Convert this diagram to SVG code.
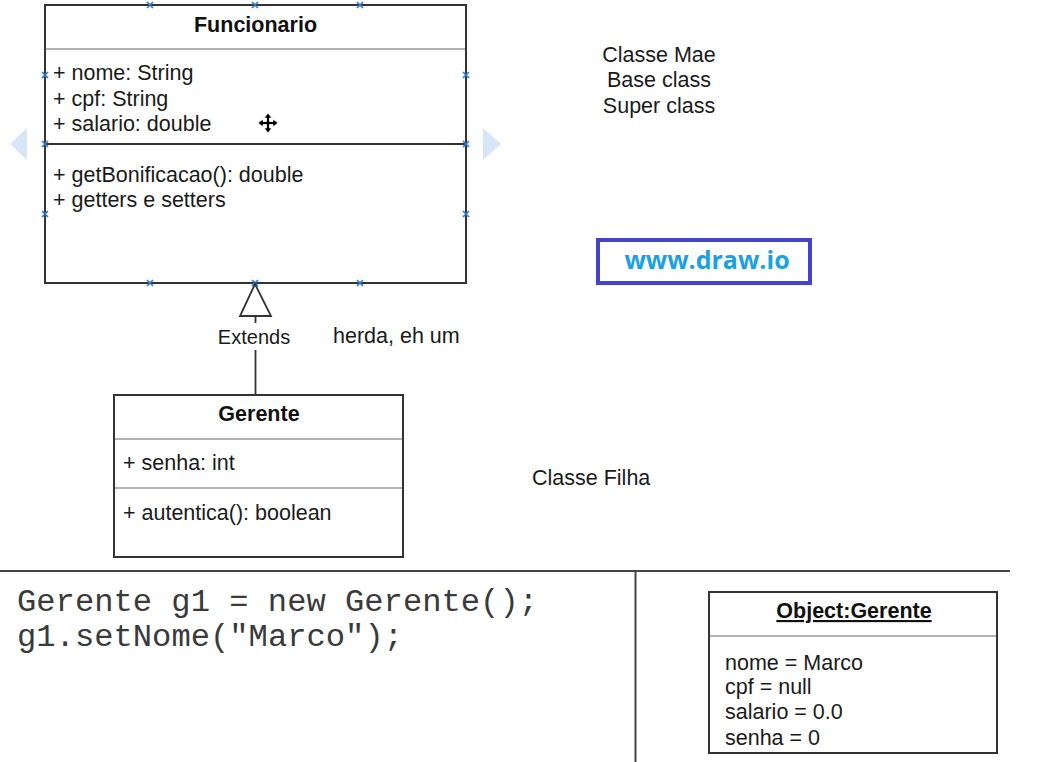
<svg xmlns="http://www.w3.org/2000/svg" width="1060" height="762" viewBox="0 0 1060 762">
<style>
.box{fill:#fff;stroke:#333;stroke-width:2}
.sep{stroke:#999;stroke-width:1.5}
.sepd{stroke:#333;stroke-width:2}
.t{font-family:"Liberation Sans",Arial,sans-serif;font-size:21.5px;fill:#1a1a1a}
.tb{font-family:"Liberation Sans",Arial,sans-serif;font-size:21.5px;font-weight:bold;fill:#111}
.sm{font-size:20px}
.code{font-family:"Liberation Mono","Courier New",monospace;font-size:31px;fill:#3a3a3a}
.mk{stroke:#2b7ad8;stroke-width:1.6;fill:none}
.hint{fill:#d6e6f8}
.ln{stroke:#333;stroke-width:1.8;fill:none}
</style>
<defs>
<path id="x" d="M-3,-3L3,3M-3,3L3,-3" class="mk"/>
</defs>
<rect width="1060" height="762" fill="#fff"/>

<g id="hints">
<polygon class="hint" points="10,144 27,128 27,160"/>
<polygon class="hint" points="483,128 483,160 501,144"/>
</g>

<g id="funcionario">
<rect class="box" x="45" y="5" width="421" height="278"/>
<line class="sep" x1="46" y1="49" x2="465" y2="49"/>
<line class="sepd" x1="45" y1="144" x2="466" y2="144"/>
<text class="tb" x="255.5" y="32" text-anchor="middle">Funcionario</text>
<text class="t" x="53" y="80">+ nome: String</text>
<text class="t" x="53" y="106">+ cpf: String</text>
<text class="t" x="53" y="131">+ salario: double</text>
<text class="t" x="53" y="182">+ getBonificacao(): double</text>
<text class="t" x="53" y="207">+ getters e setters</text>
</g>

<g id="markers">
<use href="#x" x="150" y="5"/><use href="#x" x="255" y="5"/><use href="#x" x="360" y="5"/>
<use href="#x" x="45" y="75"/><use href="#x" x="45" y="144"/><use href="#x" x="45" y="214"/>
<use href="#x" x="466" y="75"/><use href="#x" x="466" y="144"/><use href="#x" x="466" y="214"/>
<use href="#x" x="150" y="283"/><use href="#x" x="255" y="283"/><use href="#x" x="360" y="283"/>
</g>

<g id="cursor" transform="translate(268,123)">
<path d="M0,-10L-4,-5H-1.5V-1.5H-5V-4L-10,0L-5,4V1.5H-1.5V5H-4L0,10L4,5H1.5V1.5H5V4L10,0L5,-4V-1.5H1.5V-5H4Z" fill="#000" stroke="#fff" stroke-width="0.8"/>
</g>

<g id="connectors">
<polygon points="255,284 240,316 271,316" fill="#fff" stroke="#333" stroke-width="1.8"/>
<line class="ln" x1="255.5" y1="316" x2="255.5" y2="323"/>
<line class="ln" x1="255.5" y1="350" x2="255.5" y2="394"/>
<text class="t sm" x="254" y="344" text-anchor="middle">Extends</text>
</g>

<g id="gerente">
<rect class="box" x="114" y="395" width="289" height="162"/>
<line class="sep" x1="115" y1="439" x2="402" y2="439"/>
<line class="sep" x1="115" y1="488" x2="402" y2="488"/>
<text class="tb" x="259" y="421" text-anchor="middle">Gerente</text>
<text class="t" x="123" y="470">+ senha: int</text>
<text class="t" x="123" y="520">+ autentica(): boolean</text>
</g>

<g id="labels">
<text class="t" x="333" y="343">herda, eh um</text>
<text class="t" x="659" y="62" text-anchor="middle">Classe Mae</text>
<text class="t" x="659" y="87" text-anchor="middle">Base class</text>
<text class="t" x="659" y="113" text-anchor="middle">Super class</text>
<text class="t" x="532" y="485">Classe Filha</text>
</g>

<g id="drawio">
<rect x="598" y="240" width="212" height="43" fill="#fff" stroke="#4343cc" stroke-width="4"/>
<text x="707" y="269" text-anchor="middle" font-family="'Open Sans','Noto Sans',sans-serif" font-weight="bold" font-size="25" fill="#1ba1e2">www.draw.io</text>
</g>

<g id="panels">
<line x1="0" y1="571" x2="1010" y2="571" stroke="#444" stroke-width="2"/>
<line x1="635.5" y1="571" x2="635.5" y2="762" stroke="#444" stroke-width="2"/>
<text class="code" x="17" y="611" textLength="521" lengthAdjust="spacingAndGlyphs">Gerente g1 = new Gerente();</text>
<text class="code" x="17" y="646" textLength="386" lengthAdjust="spacingAndGlyphs">g1.setNome("Marco");</text>
</g>

<g id="object">
<rect class="box" x="709" y="592" width="288" height="161"/>
<line class="sep" x1="710" y1="636" x2="996" y2="636"/>
<text class="tb" x="854" y="618" text-anchor="middle" text-decoration="underline">Object:Gerente</text>
<text class="t" x="725" y="670">nome = Marco</text>
<text class="t" x="725" y="694">cpf = null</text>
<text class="t" x="725" y="719">salario = 0.0</text>
<text class="t" x="725" y="745">senha = 0</text>
</g>
</svg>
